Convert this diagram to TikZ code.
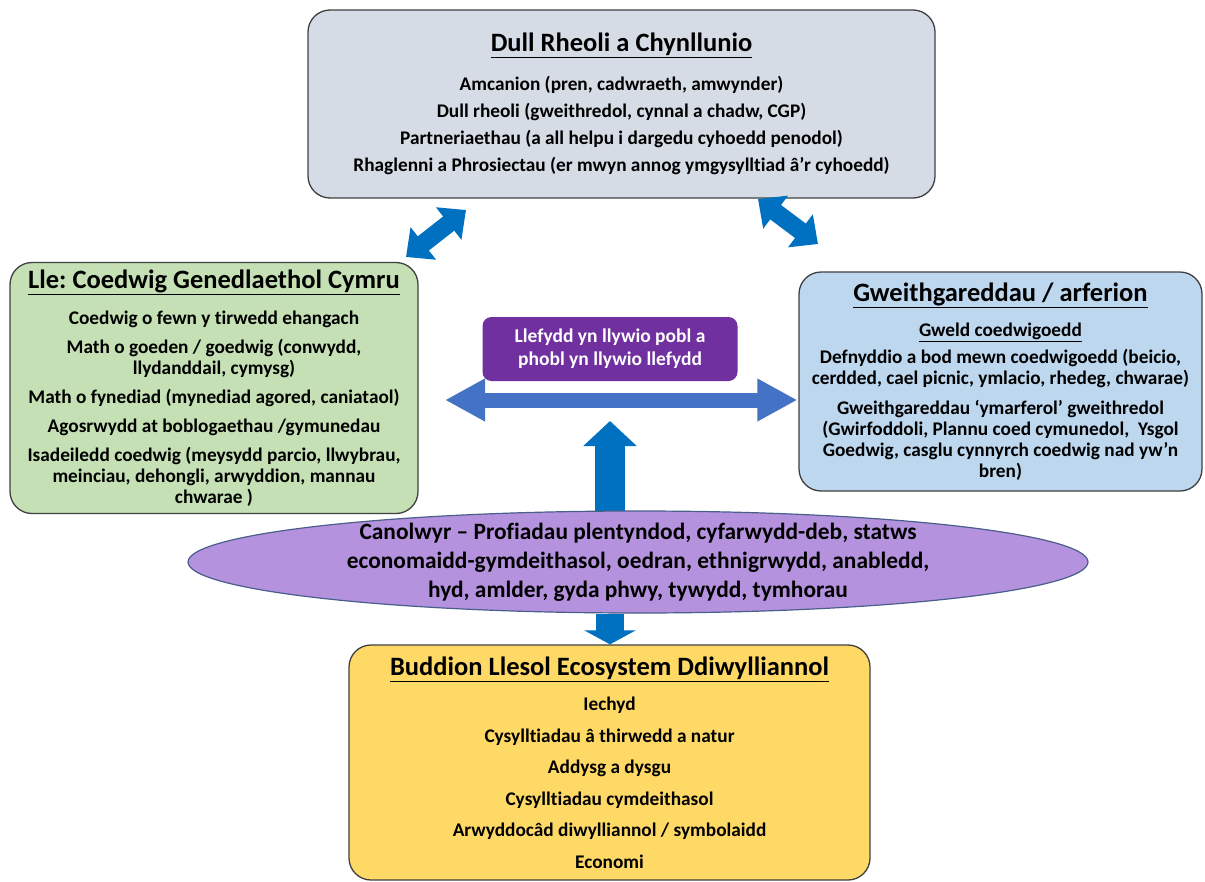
\documentclass[tikz,border=0pt]{standalone}
\usepackage{fontspec}
\setmainfont{Carlito}[Ligatures=NoCommon]
\usetikzlibrary{arrows.meta, shapes.geometric, calc, positioning}

\definecolor{llwyd}{HTML}{D6DCE5}
\definecolor{gwyrdd}{HTML}{C5E0B4}
\definecolor{glaswyn}{HTML}{BDD7EE}
\definecolor{melyn}{HTML}{FFD966}
\definecolor{porffor}{HTML}{7030A0}
\definecolor{lafant}{HTML}{B592DE}
\definecolor{ymyl}{HTML}{404040}
\definecolor{ymylelips}{HTML}{4A5E8A}
\definecolor{glas}{HTML}{0070C0}
\definecolor{glasgolau}{HTML}{4472C4}

\newcommand{\pennawd}[1]{{\fontsize{26.5}{26}\selectfont\underline{#1}}}
\frenchspacing

\begin{document}
\begin{tikzpicture}[x=1pt, y=-1pt,
    panel/.style={draw=ymyl, line width=1.3pt, rounded corners=22pt, align=center, inner sep=0pt},
    corff/.style={font=\bfseries\fontsize{19.3}{21}\selectfont},
    saethddwbl/.style n args={3}{draw=glas, line width=#1,
        {Triangle[width=#2,length=#3]}-{Triangle[width=#2,length=#3]}},
    saethsengl/.style n args={3}{draw=glas, line width=#1,
        -{Triangle[width=#2,length=#3]}}]
    \useasboundingbox (0,0) rectangle (1205,881);

    % y blychau
    \node[panel, fill=llwyd, minimum width=627pt, minimum height=188pt,
          font=\bfseries\fontsize{19.3}{27}\selectfont] (rheoli) at (621.5,104) {%
        \pennawd{Dull Rheoli a Chynllunio}\\[12pt]
        Amcanion (pren, cadwraeth, amwynder)\\
        Dull rheoli (gweithredol, cynnal a chadw, CGP)\\
        Partneriaethau (a all helpu i dargedu cyhoedd penodol)\\
        Rhaglenni a Phrosiectau (er mwyn annog ymgysylltiad â’r cyhoedd)};

    \node[panel, corff, fill=gwyrdd, minimum width=408pt, minimum height=251pt] (lle) at (214,388) {%
        \pennawd{Lle: Coedwig Genedlaethol Cymru}\\[15pt]
        Coedwig o fewn y tirwedd ehangach\\[8pt]
        Math o goeden / goedwig (conwydd,\\
        llydanddail, cymysg)\\[8pt]
        Math o fynediad (mynediad agored, caniataol)\\[8pt]
        Agosrwydd at boblogaethau /gymunedau\\[8pt]
        Isadeiledd coedwig (meysydd parcio, llwybrau,\\
        meinciau, dehongli, arwyddion, mannau\\
        chwarae )};

    \node[panel, corff, fill=glaswyn, minimum width=403pt, minimum height=219pt] (gweith) at (1000.5,381.5) {%
        \pennawd{Gweithgareddau / arferion}\\[14pt]
        \underline{Gweld coedwigoedd}\\[6pt]
        Defnyddio a bod mewn coedwigoedd (beicio,\\
        cerdded, cael picnic, ymlacio, rhedeg, chwarae)\\[9pt]
        Gweithgareddau ‘ymarferol’ gweithredol\\
        (Gwirfoddoli, Plannu coed cymunedol,\ \ Ysgol\\
        Goedwig, casglu cynnyrch coedwig nad yw’n\\
        bren)};

    \node[panel, fill=melyn, minimum width=521pt, minimum height=235pt,
          font=\bfseries\fontsize{19.3}{31.5}\selectfont] (budd) at (609.5,762.5) {%
        \pennawd{Buddion Llesol Ecosystem Ddiwylliannol}\\[4pt]
        Iechyd\\
        Cysylltiadau â thirwedd a natur\\
        Addysg a dysgu\\
        Cysylltiadau cymdeithasol\\
        Arwyddocâd diwylliannol / symbolaidd\\
        Economi};

    \node[fill=porffor, rounded corners=9pt, minimum width=255pt, minimum height=64pt,
          align=center, inner sep=0pt, text=white,
          font=\bfseries\fontsize{19.5}{23}\selectfont] (llef) at (610,349) {%
        Llefydd yn llywio pobl a\\
        phobl yn llywio llefydd};

    % y canolwyr
    \coordinate (saethx) at (610,421);
    \draw[saethsengl={30pt}{52pt}{25pt}] (saethx |- 0,512) -- (saethx);
    \node[ellipse, draw=ymylelips, line width=1.2pt, fill=lafant,
          minimum width=900pt, minimum height=102pt, inner sep=0pt] (canol) at (638,562) {};
    \node[align=center, inner sep=0pt, font=\bfseries\fontsize{23.4}{29}\selectfont] (canoltxt) at (canol.center) {%
        Canolwyr – Profiadau plentyndod, cyfarwydd-deb, statws\\
        economaidd-gymdeithasol, oedran, ethnigrwydd, anabledd,\\
        hyd, amlder, gyda phwy, tywydd, tymhorau};

    % y saethau
    \coordinate (chwith) at (445,400);
    \coordinate (de) at (gweith.west |- chwith);
    \draw[saethddwbl={15pt}{40pt}{40pt}, draw=glasgolau] (chwith) -- ([xshift=-1pt]de);

    \draw[saethsengl={28pt}{51pt}{14pt}] (saethx |- canol.south) -- (saethx |- budd.north);

    \coordinate (lledde) at (406,257);
    \coordinate (rheolichwith) at (466,210);
    \draw[saethddwbl={18pt}{40pt}{22pt}] (lledde) -- (rheolichwith);

    \coordinate (rheolide) at (758,199);
    \coordinate (gweithchwith) at (818,244);
    \draw[saethddwbl={18pt}{40pt}{22pt}] (rheolide) -- (gweithchwith);
\end{tikzpicture}
\end{document}
